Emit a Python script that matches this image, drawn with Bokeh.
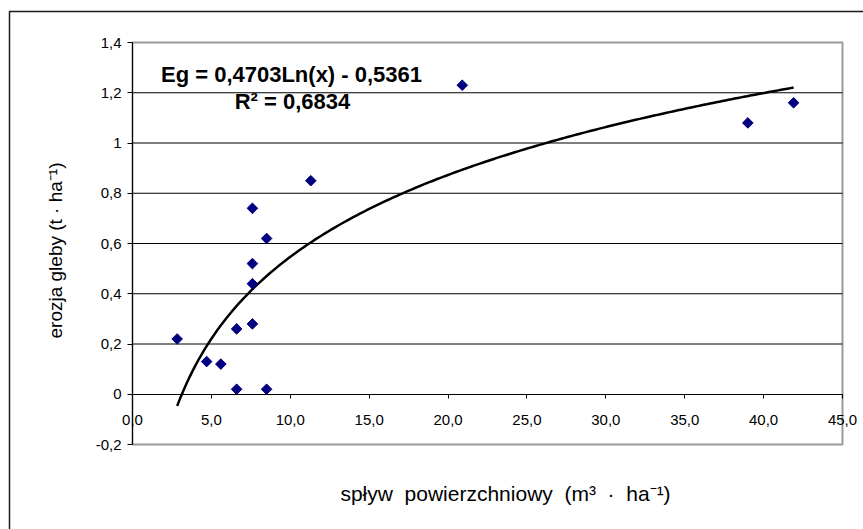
import numpy as np
from bokeh.plotting import figure
from bokeh.models import Range1d, FixedTicker, Label, BoxAnnotation, ColumnDataSource
from bokeh.embed import file_html
from bokeh.resources import INLINE

# data
runoff = [2.83, 4.7, 5.6, 6.6, 6.6, 7.6, 7.6, 7.6, 7.6, 8.5, 8.5, 11.3, 20.9, 39.0, 41.9]
erosion = [0.22, 0.13, 0.12, 0.02, 0.26, 0.28, 0.44, 0.52, 0.74, 0.62, 0.02, 0.85, 1.23, 1.08, 1.16]

# trendline coefficients as printed on the chart
coef_a = 0.4703
coef_b = -0.5361
eq_text = "Eg = 0,4703Ln(x) - 0,5361"
r2_text = "R² = 0,6834"

x_ticks = [0, 5, 10, 15, 20, 25, 30, 35, 40, 45]
x_tick_labels = ["0,0", "5,0", "10,0", "15,0", "20,0", "25,0", "30,0", "35,0", "40,0", "45,0"]
y_ticks = [-0.2, 0.0, 0.2, 0.4, 0.6, 0.8, 1.0, 1.2, 1.4]
y_tick_labels = ["-0,2", "0", "0,2", "0,4", "0,6", "0,8", "1", "1,2", "1,4"]
grid_ticks = [0.2, 0.4, 0.6, 0.8, 1.0, 1.2]
x_min, x_max = 0, 45
y_min, y_max = -0.2, 1.4

NB = "\u00a0"
x_title = f"spływ {NB}powierzchniowy {NB}(m³ {NB}· {NB}ha⁻¹)"
y_title = "erozja gleby (t · ha⁻¹)"

FONT = "Liberation Sans"

# layout (canvas pixels)
W, H = 863, 529
PL, PR, PT, PB = 132, 842, 42, 444   # plot area box


def px_x(px):
    return x_min + (px - PL) * (x_max - x_min) / (PR - PL)


def px_y(py):
    return y_min + (PB - py) * (y_max - y_min) / (PB - PT)


p = figure(width=W, height=H,
           x_range=Range1d(px_x(0), px_x(W)), y_range=Range1d(px_y(H), px_y(0)),
           output_backend="svg", toolbar_location=None,
           min_border_left=0, min_border_right=0, min_border_top=0, min_border_bottom=0)
p.background_fill_color = "white"
p.border_fill_color = "white"
p.outline_line_color = None
p.grid.visible = False

# outer chart frame
p.add_layout(BoxAnnotation(left=px_x(9), right=px_x(W + 50), top=px_y(11), bottom=px_y(H + 50),
                           fill_color=None, fill_alpha=0, line_color="#1a1a1a", line_alpha=1,
                           line_width=1.5, level="underlay"))

# horizontal gridlines limited to the plot area
p.segment(x0=[x_min] * len(grid_ticks), x1=[x_max] * len(grid_ticks),
          y0=grid_ticks, y1=grid_ticks, line_color="black", line_width=1)

# plot area border
p.add_layout(BoxAnnotation(left=x_min, right=x_max, bottom=y_min, top=y_max,
                           fill_color=None, fill_alpha=0, line_color="#9a9a9a", line_alpha=1,
                           line_width=2, level="underlay"))

# trendline
tx = np.linspace(min(runoff), max(runoff), 200)
ty = coef_a * np.log(tx) + coef_b
p.line(tx, ty, line_color="black", line_width=2.5)

src = ColumnDataSource(dict(x=runoff, y=erosion))
p.scatter("x", "y", source=src, marker="square", size=7.5, angle=np.pi / 4,
          fill_color="#000080", line_color="#000080")

# axes
p.xaxis.fixed_location = 0
p.xaxis.bounds = (x_min, x_max)
p.yaxis.fixed_location = 0
p.yaxis.bounds = (y_min, y_max)
p.xaxis.ticker = FixedTicker(ticks=x_ticks)
p.xaxis.major_label_overrides = {t: l for t, l in zip(x_ticks, x_tick_labels)}
p.yaxis.ticker = FixedTicker(ticks=y_ticks)
p.yaxis.major_label_overrides = {t: l for t, l in zip(y_ticks, y_tick_labels)}
for ax in (p.xaxis, p.yaxis):
    ax.axis_line_color = "black"
    ax.major_tick_line_color = "black"
    ax.major_tick_out = 5
    ax.major_tick_in = 0
    ax.minor_tick_line_color = None
    ax.major_label_text_font = FONT
    ax.major_label_text_font_size = "15px"
    ax.major_label_text_color = "black"
p.xaxis.major_tick_out = 4
p.xaxis.major_label_standoff = 17
p.yaxis.major_label_standoff = 6

# texts
p.add_layout(Label(x=px_x(291), y=px_y(74), text=eq_text, text_font=FONT, text_font_style="bold",
                   text_font_size="22px", text_color="black",
                   text_align="center", text_baseline="alphabetic"))
p.add_layout(Label(x=px_x(292), y=px_y(101), text=r2_text, text_font=FONT, text_font_style="bold",
                   text_font_size="22px", text_color="black",
                   text_align="center", text_baseline="alphabetic"))
p.add_layout(Label(x=px_x(505), y=px_y(493), text=x_title, text_font=FONT,
                   text_font_size="21px", text_color="black",
                   text_align="center", text_baseline="alphabetic"))
p.add_layout(Label(x=px_x(55), y=px_y(250), text=y_title, text_font=FONT, angle=np.pi / 2,
                   text_font_size="19px", text_color="black",
                   text_align="center", text_baseline="alphabetic"))

open("out.html", "w").write(file_html(p, INLINE))
